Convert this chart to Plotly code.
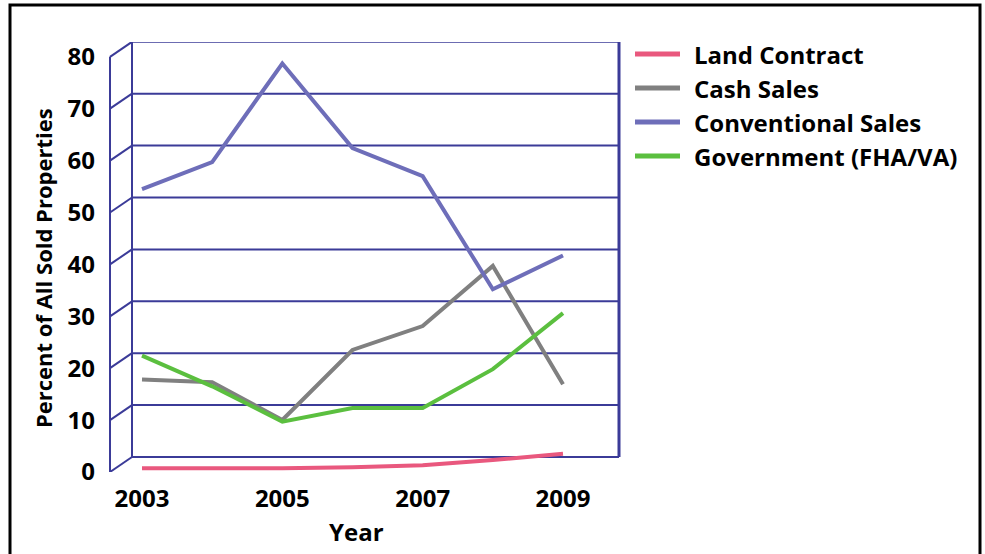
import plotly.graph_objects as go

# ---- data -------------------------------------------------------------
years = [2003, 2004, 2005, 2006, 2007, 2008, 2009]
series_names = ["Land Contract", "Cash Sales", "Conventional Sales", "Government (FHA/VA)"]
land_contract = [0.0, 0.0, 0.0, 0.2, 0.6, 1.6, 2.8]
cash_sales = [17.1, 16.6, 9.3, 22.8, 27.4, 39.0, 16.2]
conventional_sales = [53.8, 59.0, 78.0, 61.7, 56.3, 34.5, 41.0]
government = [21.7, 15.8, 9.0, 11.6, 11.6, 19.1, 29.9]
series_values = [land_contract, cash_sales, conventional_sales, government]
series_colors = ["#e9587e", "#808080", "#6e6eb9", "#5bbf3f"]

y_ticks = [0, 10, 20, 30, 40, 50, 60, 70, 80]
x_ticks = [2003, 2005, 2007, 2009]

# ---- geometry ---------------------------------------------------------
W, H = 985, 554
L, R, T, B = 110, 366, 42, 82          # plot area 110..619 x 42..472
PW, PH = W - L - R, H - T - B
PX_PER_UNIT = 5.19                      # vertical pixels per percent
DEPTH_X, DEPTH_Y = 22, 15               # perspective offset of the back wall
FRAME = "#3b3b98"
FONT = "Open Sans"


def px_x(p):
    return (p - L) / PW


def px_y(p):
    return (H - B - p) / PH


# front-face value axis spans the whole plot height
front_top = PH / PX_PER_UNIT
depth_units = DEPTH_Y / PX_PER_UNIT
# lines sit slightly behind the front face
line_offset = 3.7 / PX_PER_UNIT

fig = go.Figure()
for name, vals, col in zip(series_names, series_values, series_colors):
    fig.add_trace(go.Scatter(
        x=years, y=vals, name=name, mode="lines",
        line=dict(color=col, width=4), showlegend=False,
    ))

shapes = []
back_left = px_x(L + DEPTH_X)
# left side wall + back wall grid
for v in y_ticks:
    shapes.append(dict(type="line", xref="paper", yref="y2",
                       x0=0, y0=v, x1=back_left, y1=v + depth_units,
                       line=dict(color=FRAME, width=2), layer="below"))
    shapes.append(dict(type="line", xref="paper", yref="y2",
                       x0=back_left, y0=v + depth_units, x1=1, y1=v + depth_units,
                       line=dict(color=FRAME, width=2), layer="below"))
shapes.append(dict(type="line", xref="paper", yref="y2",
                   x0=0, y0=y_ticks[0], x1=0, y1=y_ticks[-1],
                   line=dict(color=FRAME, width=2), layer="below"))
shapes.append(dict(type="line", xref="paper", yref="y2",
                   x0=back_left, y0=y_ticks[0] + depth_units,
                   x1=back_left, y1=y_ticks[-1] + depth_units,
                   line=dict(color=FRAME, width=2), layer="below"))
shapes.append(dict(type="line", xref="paper", yref="y2",
                   x0=1, y0=y_ticks[0] + depth_units,
                   x1=1, y1=y_ticks[-1] + depth_units,
                   line=dict(color=FRAME, width=3), layer="below"))

# outer border
shapes.append(dict(type="rect", xref="paper", yref="paper",
                   x0=px_x(10), x1=px_x(980), y0=px_y(565), y1=px_y(5),
                   line=dict(color="black", width=3)))

annotations = []
# legend drawn by hand
for i, (name, col) in enumerate(zip(series_names, series_colors)):
    yc = 54 + i * 34
    shapes.append(dict(type="line", xref="paper", yref="paper",
                       x0=px_x(635), x1=px_x(680), y0=px_y(yc), y1=px_y(yc),
                       line=dict(color=col, width=5)))
    annotations.append(dict(text=name, xref="paper", yref="paper",
                            x=px_x(692), y=px_y(yc), xanchor="left", yanchor="middle",
                            showarrow=False,
                            font=dict(family=FONT, size=24, color="black", weight="bold")))

annotations.append(dict(text="Percent of All Sold Properties", xref="paper", yref="paper",
                        x=px_x(43), y=px_y(268), xanchor="center", yanchor="middle",
                        textangle=-90, showarrow=False,
                        font=dict(family=FONT, size=22, color="black", weight="bold")))
annotations.append(dict(text="Year", xref="paper", yref="paper",
                        x=px_x(356), y=px_y(531), xanchor="center", yanchor="middle",
                        showarrow=False,
                        font=dict(family=FONT, size=24, color="black", weight="bold")))

tick_font = dict(family=FONT, size=24, color="black", weight="bold")
x_lo = years[0] - 32 / 70.17
x_hi = years[-1] + (L + PW - 563) / 70.17

fig.update_layout(
    width=W, height=H,
    margin=dict(l=L, r=R, t=T, b=B, pad=0),
    paper_bgcolor="white", plot_bgcolor="white",
    showlegend=False,
    xaxis=dict(range=[x_lo, x_hi], tickvals=x_ticks, ticktext=[str(v) for v in x_ticks],
               showgrid=False, zeroline=False, showline=False,
               ticks="", ticklabelstandoff=10, tickfont=tick_font),
    yaxis=dict(range=[-line_offset, front_top - line_offset], showgrid=False, zeroline=False,
               showline=False, showticklabels=False, ticks=""),
    yaxis2=dict(range=[0, front_top], overlaying="y", side="left",
                tickvals=y_ticks, showgrid=False, zeroline=False, showline=False,
                ticks="", ticklabelstandoff=14, tickfont=tick_font),
    shapes=shapes,
    annotations=annotations,
)

fig.write_html("out.html")
